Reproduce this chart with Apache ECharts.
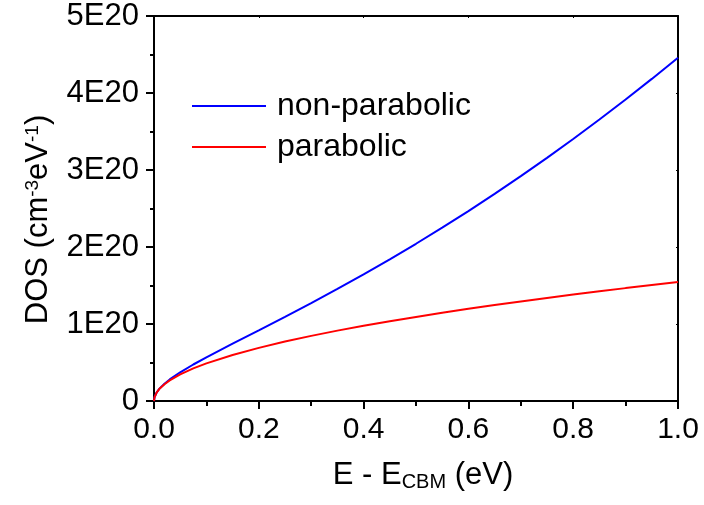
<!DOCTYPE html>
<html>
<head>
<meta charset="utf-8">
<script src="https://cdn.jsdelivr.net/npm/echarts@6/dist/echarts.min.js"></script>
<style>
html,body{margin:0;padding:0;background:#fff;}
#chart{width:704px;height:505px;}
</style>
</head>
<body>
<div id="chart"></div>
<script>
// Energy E - E_CBM (eV)
var energy = [0, 0.001, 0.005, 0.01, 0.02, 0.03, 0.05, 0.075, 0.1, 0.15, 0.2, 0.25, 0.3, 0.35, 0.4, 0.45, 0.5, 0.55, 0.6, 0.65, 0.7, 0.75, 0.8, 0.85, 0.9, 0.95, 1.0];
// DOS in units of 1E20 cm^-3 eV^-1
var nonParabolic = [0, 0.049, 0.110, 0.157, 0.225, 0.280, 0.373, 0.474, 0.567, 0.744, 0.918, 1.093, 1.272, 1.455, 1.644, 1.840, 2.042, 2.251, 2.467, 2.690, 2.920, 3.158, 3.403, 3.656, 3.916, 4.183, 4.458];
var parabolic = [0, 0.049, 0.109, 0.155, 0.218, 0.268, 0.345, 0.423, 0.489, 0.598, 0.690, 0.773, 0.846, 0.914, 0.977, 1.036, 1.092, 1.146, 1.197, 1.246, 1.293, 1.338, 1.382, 1.424, 1.466, 1.506, 1.545];
var seriesNames = ['non-parabolic', 'parabolic'];
var yTicks = [0, 1, 2, 3, 4, 5];

function zip(xs, ys) { return xs.map(function (x, i) { return [x, ys[i]]; }); }

var font = 'Liberation Sans, Arial, sans-serif';
var chart = echarts.init(document.getElementById('chart'));
var axisLine = { onZero: false, lineStyle: { color: '#000', width: 2 } };
chart.setOption({
  animation: false,
  backgroundColor: '#fff',
  grid: { left: 154, right: 26, top: 16, bottom: 104 },
  legend: {
    left: 192, top: 90, padding: 0, orient: 'vertical',
    icon: 'rect', itemWidth: 74, itemHeight: 2, itemGap: 9,
    data: seriesNames,
    textStyle: { fontFamily: font, fontSize: 32, color: '#000', lineHeight: 32, padding: [0, 0, 0, 6] }
  },
  xAxis: [{
    type: 'value', min: 0, max: 1, interval: 0.2, position: 'bottom',
    axisLine: axisLine,
    axisTick: { inside: false, length: 8, lineStyle: { color: '#000', width: 2 } },
    minorTick: { show: true, splitNumber: 2, length: 5, lineStyle: { color: '#000', width: 2 } },
    splitLine: { show: false },
    axisLabel: { margin: 14, fontFamily: font, fontSize: 30, color: '#000', formatter: function (v) { return v.toFixed(1); } },
    name: '{n|E - E}{s|CBM}{n| (eV)}',
    nameLocation: 'middle', nameGap: 57,
    nameTextStyle: {
      padding: [0, 0, 0, 14],
      rich: {
        n: { fontFamily: font, fontSize: 31, color: '#000' },
        s: { fontFamily: font, fontSize: 20, color: '#000', verticalAlign: 'bottom', padding: [14, 0, 0, 0] }
      }
    }
  }, {
    type: 'value', min: 0, max: 1, interval: 0.2, position: 'top',
    axisLine: axisLine,
    axisTick: { show: true, inside: true, length: 2, lineStyle: { color: '#000', width: 1 } },
    minorTick: { show: false },
    splitLine: { show: false }, axisLabel: { show: false }
  }],
  yAxis: [{
    type: 'value', min: 0, max: 5, interval: 1, position: 'left',
    axisLine: axisLine,
    axisTick: { inside: false, length: 8, lineStyle: { color: '#000', width: 2 } },
    minorTick: { show: true, splitNumber: 2, length: 4, lineStyle: { color: '#000', width: 2 } },
    splitLine: { show: false },
    axisLabel: { margin: 15, fontFamily: font, fontSize: 31, color: '#000',
      formatter: function (v) { return yTicks.indexOf(v) === 0 ? '0' : v + 'E20'; } },
    name: '{n|DOS (cm}{p|-3}{n|eV}{p|-1}{n|)}',
    nameLocation: 'middle', nameGap: 100, nameRotate: 90,
    nameTextStyle: {
      padding: [0, 22, 0, 0],
      rich: {
        n: { fontFamily: font, fontSize: 31, color: '#000' },
        p: { fontFamily: font, fontSize: 19, color: '#000', verticalAlign: 'top', padding: [0, 0, 12, 0] }
      }
    }
  }, {
    type: 'value', min: 0, max: 5, interval: 1, position: 'right',
    axisLine: axisLine,
    axisTick: { show: true, inside: true, length: 2, lineStyle: { color: '#000', width: 1 } },
    splitLine: { show: false }, axisLabel: { show: false }
  }],
  series: [{
    name: seriesNames[0], type: 'line', showSymbol: false, symbol: 'none', smooth: false,
    xAxisIndex: 0, yAxisIndex: 0,
    lineStyle: { color: '#0000ff', width: 2 }, itemStyle: { color: '#0000ff' },
    data: zip(energy, nonParabolic)
  }, {
    name: seriesNames[1], type: 'line', showSymbol: false, symbol: 'none', smooth: false,
    xAxisIndex: 0, yAxisIndex: 0,
    lineStyle: { color: '#ff0000', width: 2 }, itemStyle: { color: '#ff0000' },
    data: zip(energy, parabolic)
  }]
});
</script>
</body>
</html>
